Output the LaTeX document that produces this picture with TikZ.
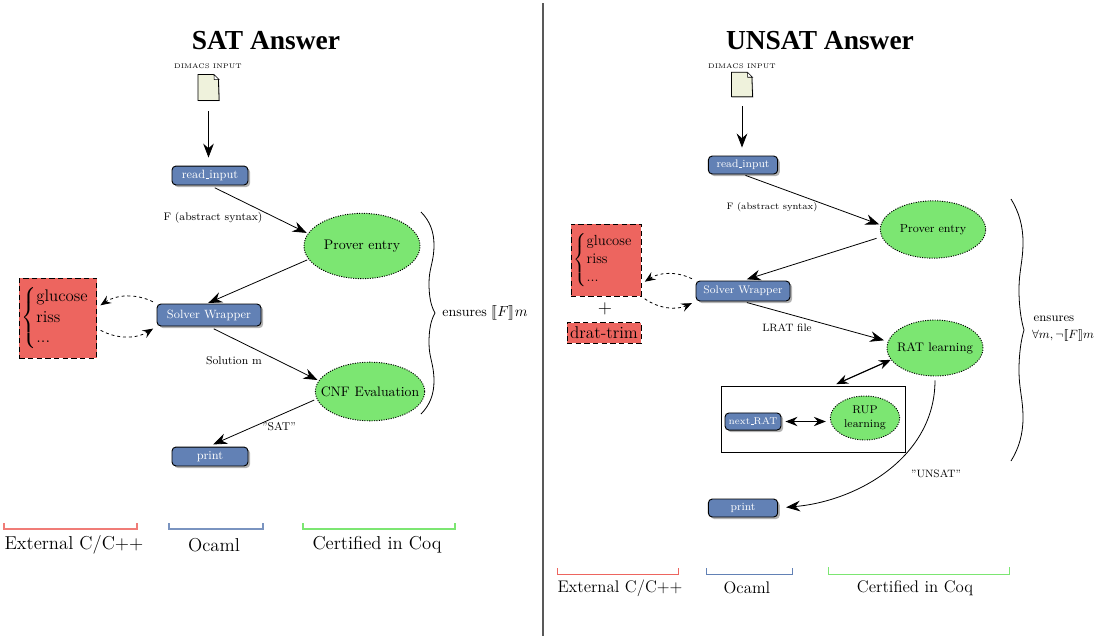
\documentclass[tikz,border=0pt]{standalone}
\usepackage{amsmath,amssymb}
\usepackage{stmaryrd}
\usepackage{fontspec}
\usepackage{xcolor}
\usepackage{tikz}
\usetikzlibrary{arrows.meta,shapes.geometric,shadows}
\newfontfamily\titlefont{Liberation Serif}
\definecolor{ocamlblue}{HTML}{6281B5}
\definecolor{coqgreen}{HTML}{7CE672}
\definecolor{extred}{HTML}{ED655F}
\definecolor{docfill}{HTML}{EFF2DC}
\tikzset{
  tip/.style={-{Stealth[length=10.5pt,width=8pt,inset=3.5pt]}},
  conn/.style={tip, line width=0.6pt},
  dconn/.style={{Stealth[length=9pt,width=7pt,inset=3pt]}-{Stealth[length=9pt,width=7pt,inset=3pt]}, line width=0.9pt},
  dashconn/.style={-{Stealth[length=8pt,width=6.5pt,inset=3pt]}, line width=0.6pt, dash pattern=on 2.2pt off 2.2pt, shorten >=3pt, shorten <=3pt},
  ocamlbox/.style={draw, line width=0.7pt, rounded corners=3pt, fill=ocamlblue, text=white, inner sep=0pt,
    drop shadow={shadow xshift=1.6pt, shadow yshift=-1.6pt, opacity=0.6}},
  coqnode/.style={ellipse, draw, dash pattern=on 0.8pt off 1pt, line width=0.7pt, fill=coqgreen, inner sep=0pt},
  extbox/.style={draw, dash pattern=on 4pt off 2.5pt, line width=0.7pt, fill=extred, inner sep=0pt},
  lab/.style={inner sep=0pt},
  bigbrace/.style={line width=0.6pt},
  legline/.style={line width=0.65pt}
}
\newcommand{\usc}{\leavevmode\kern.06em\vbox{\hrule width.3em}}
\newcommand{\ctext}[1]{\makebox[0pt]{#1}}
\newcommand{\docfile}[2]{
  \node[minimum width=15.5pt, minimum height=#2, inner sep=0pt] (#1) at (\docx,\docy) {};
  \draw[line width=0.6pt, fill=docfill, drop shadow={shadow xshift=0.6pt, shadow yshift=-0.6pt}]
    (#1.south west) -- (#1.north west) -- ++(15.5,0) -- ++(5,5) -- (#1.south east) -- cycle;
  \draw[line width=0.4pt, fill=white] (#1.north east) ++(-5,0) -- ++(0,5) -- ++(5,0) -- cycle;
}
\begin{document}
\begin{tikzpicture}[x=0.75pt,y=-0.75pt]
  \useasboundingbox (0,0) rectangle (1104,636);

  \draw[line width=1.1pt, black!65] (543,3) -- (543,636);

  % left side
  \node[lab, font=\titlefont\bfseries\fontsize{20.6}{20.6}\selectfont] (titleS) at (266,41) {SAT Answer};
  \node[lab, font=\tiny] (dimacsS) at (208,66) {DIMACS INPUT};
  \def\docx{208.5}\def\docy{87.5}
  \docfile{docS}{19pt}
  \node[ocamlbox, minimum width=57pt, minimum height=14.2pt, font=\small] (readS) at (210,175.5) {read\usc input};
  \node[coqnode, minimum width=87pt, minimum height=49pt, font=\fontsize{10.4}{12}\selectfont] (proverS) at (362,246) {\ctext{Prover entry}};
  \node[ocamlbox, minimum width=78pt, minimum height=16.5pt, font=\small] (solverS) at (209,315) {Solver Wrapper};
  \node[coqnode, minimum width=82pt, minimum height=44pt, font=\fontsize{10.3}{12}\selectfont] (cnfS) at (370,391.5) {\ctext{CNF Evaluation}};
  \node[ocamlbox, minimum width=57pt, minimum height=14.2pt, font=\small] (printS) at (210,456.5) {print};
  \node[extbox, minimum width=58pt, minimum height=60pt] (extS) at (58,318)
    {\fontsize{12.6}{15.2}\selectfont$\left\{\begin{tabular}{@{}l@{}}glucose\\riss\\...\end{tabular}\right.$\kern4pt};

  \draw[conn, shorten >=6pt] (docS.south |- 0,111) -- (docS.south |- readS.north);
  \draw[conn, shorten <=4pt, shorten >=1pt] (readS.south) -- (proverS.167);
  \draw[conn, shorten <=1pt, shorten >=1pt] (proverS.194) -- (solverS.100);
  \draw[conn, shorten <=4pt, shorten >=1pt] (solverS.south) -- (cnfS.168);
  \draw[conn, shorten <=2pt, shorten >=4pt] (cnfS.188) -- (printS.100);
  \draw[dashconn] (solverS.north west) to[bend right=30] (extS.15);
  \draw[dashconn] (extS.-15) to[bend right=30] (solverS.south west);

  \node[lab, font=\fontsize{8.2}{10}\selectfont] (absS) at (213,218) {F (abstract syntax)};
  \node[lab, font=\fontsize{8.5}{10}\selectfont] (solS) at (234,361) {Solution m};
  \node[lab, font=\fontsize{8.5}{10}\selectfont] (satS) at (279,427) {”SAT”};

  \draw[bigbrace] (421,212) .. controls (430,221) and (434,232) .. (434,245)
    .. controls (434,262) and (429,268) .. (429,283)
    .. controls (429,297) and (431,306) .. (435,313)
    .. controls (431,320) and (429,329) .. (429,343)
    .. controls (429,358) and (434,364) .. (434,381)
    .. controls (434,394) and (430,405) .. (421,414);
  \node[lab, font=\fontsize{10.5}{12}\selectfont] (ensS) at (485,313) {ensures $\llbracket F \rrbracket m$};

  \draw[legline, line width=0.8pt, extred!85] (4,523) |- (137,529) -- (137,523);
  \draw[legline, line width=0.8pt, ocamlblue!85] (169,523) |- (263,529) -- (263,523);
  \draw[legline, line width=0.8pt, coqgreen] (303,523) |- (455,529) -- (455,523);
  \node[lab, font=\fontsize{14}{16}\selectfont] (legSa) at (74,545) {External C/C++};
  \node[lab, font=\fontsize{14}{16}\selectfont] (legSb) at (214,545) {Ocaml};
  \node[lab, font=\fontsize{14}{16}\selectfont] (legSc) at (377,545) {Certified in Coq};

  % right side
  \node[lab, font=\titlefont\bfseries\fontsize{20.6}{20.6}\selectfont] (titleU) at (820,41) {UNSAT Answer};
  \node[lab, font=\tiny] (dimacsU) at (742,66) {DIMACS INPUT};
  \def\docx{742}\def\docy{84.5}
  \docfile{docU}{18pt}
  \node[ocamlbox, minimum width=52pt, minimum height=13.5pt, font=\fontsize{8.2}{10}\selectfont] (readU) at (743,165) {read\usc input};
  \node[coqnode, minimum width=79pt, minimum height=43pt, font=\fontsize{8.8}{10}\selectfont] (proverU) at (933,229.5) {\ctext{Prover entry}};
  \node[ocamlbox, minimum width=70.5pt, minimum height=15pt, font=\fontsize{8.2}{10}\selectfont] (solverU) at (743,291) {Solver Wrapper};
  \node[coqnode, minimum width=72pt, minimum height=42pt, font=\fontsize{9.3}{11}\selectfont] (ratU) at (935,348) {\ctext{RAT learning}};
  \node[draw, line width=0.6pt, minimum width=138pt, minimum height=50pt, inner sep=0pt] (frameU) at (813,419.5) {};
  \node[ocamlbox, minimum width=42pt, minimum height=12.8pt, font=\fontsize{7.4}{9}\selectfont] (nextU) at (753,421.5) {next\usc RAT};
  \node[coqnode, minimum width=52pt, minimum height=33pt, font=\fontsize{8.4}{10.5}\selectfont, align=center] (rupU) at (865,418) {RUP\\learning};
  \node[ocamlbox, minimum width=52pt, minimum height=13.5pt, font=\fontsize{8.2}{10}\selectfont] (printU) at (743,508) {print};
  \node[extbox, minimum width=52.5pt, minimum height=54pt] (extU) at (606,260)
    {\fontsize{11}{13.5}\selectfont$\left\{\begin{tabular}{@{}l@{}}glucose\\riss\\...\end{tabular}\right.$\kern4pt};
  \node[lab, font=\fontsize{14}{16}\selectfont] (plusU) at (605,309) {+};
  \node[extbox, minimum width=55.5pt, minimum height=15.5pt, font=\fontsize{12.8}{15}\selectfont] (dratU) at (604,333) {drat-trim};

  \draw[conn, shorten >=6pt] (docU.south |- 0,106) -- (docU.south |- readU.north);
  \draw[conn, shorten <=2pt, shorten >=1pt] (readU.south) -- (proverU.175);
  \draw[conn, shorten <=4pt, shorten >=3pt] (proverU.188) -- (solverU.north);
  \draw[conn, shorten <=3pt, shorten >=3pt] (solverU.south) -- (ratU.172);
  \draw[dconn, shorten >=3pt] (ratU.195) -- (frameU.60);
  \draw[dconn, shorten <=3pt, shorten >=3pt] (nextU.east) -- (nextU.east -| rupU.west);
  \draw[conn, shorten <=3pt, shorten >=6pt] (ratU.south) to[out=-90,in=5] (printU.east);
  \draw[dashconn] (solverU.north west) to[bend right=30] (extU.-34);
  \draw[dashconn] (extU.south east) to[bend right=30] (solverU.south west);

  \node[lab, font=\scriptsize] (absU) at (772,207) {F (abstract syntax)};
  \node[lab, font=\footnotesize] (lratU) at (787,328) {LRAT file};
  \node[lab, font=\footnotesize] (unsatU) at (936,474) {”UNSAT”};

  \draw[bigbrace] (1011,199) .. controls (1019,212) and (1023,226) .. (1023,242)
    .. controls (1023,262) and (1019,270) .. (1019,290)
    .. controls (1019,306) and (1021,320) .. (1024,330)
    .. controls (1021,340) and (1019,354) .. (1019,370)
    .. controls (1019,390) and (1023,398) .. (1023,418)
    .. controls (1023,434) and (1019,448) .. (1011,461);
  \node[lab, font=\fontsize{9.3}{11}\selectfont] (ensUa) at (1054,319) {ensures};
  \node[lab, font=\fontsize{9.3}{11}\selectfont] (ensUb) at (1063,335) {$\forall m, \neg\llbracket F \rrbracket m$};

  \draw[legline, extred] (557,568) |- (678,574) -- (678,568);
  \draw[legline, ocamlblue] (706,568) |- (792,574) -- (792,568);
  \draw[legline, coqgreen] (828,567) |- (1009,574) -- (1009,567);
  \node[lab, font=\fontsize{12.6}{14}\selectfont] (legUa) at (620,588) {External C/C++};
  \node[lab, font=\fontsize{12.6}{14}\selectfont] (legUb) at (747,588) {Ocaml};
  \node[lab, font=\fontsize{12.6}{14}\selectfont] (legUc) at (915,588) {Certified in Coq};
\end{tikzpicture}
\end{document}
